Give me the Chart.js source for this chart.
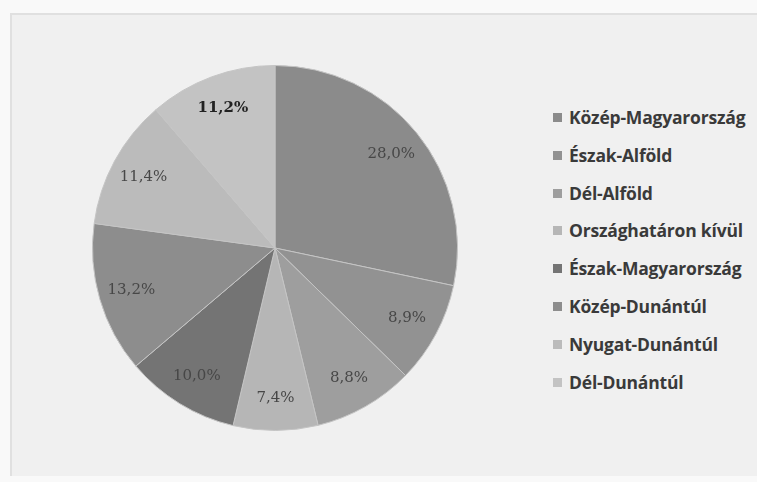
<!DOCTYPE html>
<html>
<head>
<meta charset="utf-8">
<script src="https://cdn.jsdelivr.net/npm/chart.js@4/dist/chart.umd.min.js"></script>
<style>
  html, body { margin: 0; padding: 0; }
  body { width: 757px; height: 482px; background: #f9f9f9; position: relative; overflow: hidden; }
  #frame { position: absolute; left: 10px; top: 13px; right: 0; bottom: 6px; background: #f0f0f0;
           border-left: 2px solid #e0e0e0; border-top: 2px solid #e0e0e0; }
  #pieBox { position: absolute; left: 90px; top: 63px; width: 370px; height: 370px; }
  #legend { position: absolute; left: 553px; top: 99px; margin: 0; padding: 0; list-style: none;
            font-family: "Open Sans", sans-serif; font-weight: 700; font-size: 17.5px; color: #3a3a3a; }
  #legend li { height: 37.8px; line-height: 37.8px; white-space: nowrap; letter-spacing: -0.2px; }
  #legend span.box { display: inline-block; width: 9px; height: 9px; margin-right: 7px; vertical-align: 2px; }
</style>
</head>
<body>
<div id="frame"></div>
<div id="pieBox"><canvas id="pieChart"></canvas></div>
<ul id="legend"></ul>
<script>
  // adatok
  const regions = ['Közép-Magyarország', 'Észak-Alföld', 'Dél-Alföld', 'Országhatáron kívül',
                   'Észak-Magyarország', 'Közép-Dunántúl', 'Nyugat-Dunántúl', 'Dél-Dunántúl'];
  const shares = [28.0, 8.9, 8.8, 7.4, 10.0, 13.2, 11.4, 11.2];
  const sliceColors = ['#8b8b8b', '#929292', '#9e9e9e', '#b6b6b6', '#747474', '#8d8d8d', '#bbbbbb', '#c3c3c3'];

  // százalék címkék a szeleteken
  const sliceLabels = {
    id: 'sliceLabels',
    afterDatasetsDraw(chart) {
      const ctx = chart.ctx;
      const meta = chart.getDatasetMeta(0);
      meta.data.forEach((arc, i) => {
        const mid = (arc.startAngle + arc.endAngle) / 2;
        const r = arc.outerRadius * 0.82;
        const x = arc.x + Math.cos(mid) * r;
        const y = arc.y + Math.sin(mid) * r;
        const last = i === shares.length - 1;
        ctx.save();
        ctx.font = (last ? 'bold ' : '') + '15px "DejaVu Serif", serif';
        ctx.fillStyle = last ? '#222' : '#474747';
        ctx.textAlign = 'center';
        ctx.textBaseline = 'middle';
        ctx.fillText(shares[i].toFixed(1).replace('.', ',') + '%', x, y);
        ctx.restore();
      });
    }
  };

  const ctx = document.getElementById('pieChart').getContext('2d');
  const pieChart = new Chart(ctx, {
    type: 'pie',
    data: {
      labels: regions,
      datasets: [{
        data: shares,
        backgroundColor: sliceColors,
        borderColor: '#c4c4c4',
        borderWidth: 1
      }]
    },
    options: {
      responsive: true,
      maintainAspectRatio: false,
      animation: false,
      layout: { padding: 2 },
      plugins: {
        legend: { display: false },
        tooltip: { enabled: false }
      }
    },
    plugins: [sliceLabels]
  });

  // HTML jelmagyarázat a diagram saját elemeiből
  const items = pieChart.options.plugins.legend.labels.generateLabels(pieChart);
  const ul = document.getElementById('legend');
  items.forEach(item => {
    const li = document.createElement('li');
    const box = document.createElement('span');
    box.className = 'box';
    box.style.background = item.fillStyle;
    li.appendChild(box);
    li.appendChild(document.createTextNode(item.text));
    ul.appendChild(li);
  });
</script>
</body>
</html>
